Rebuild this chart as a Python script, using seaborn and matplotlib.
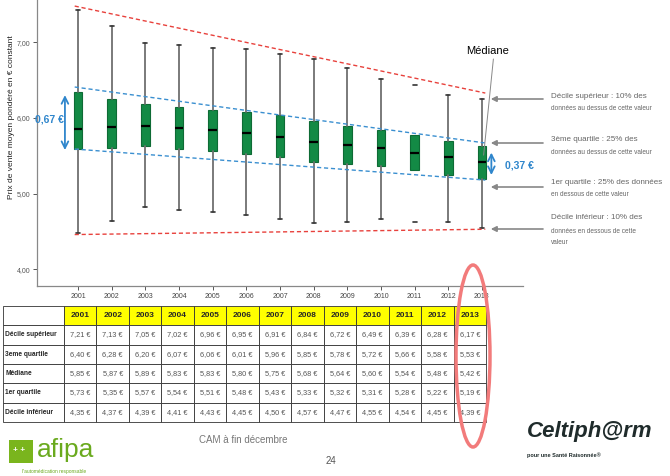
import numpy as np
import pandas as pd
import seaborn as sns
import matplotlib.pyplot as plt
from matplotlib.patches import Ellipse, Rectangle

# --- données ---
years = [str(y) for y in range(2001, 2014)]
whis_hi = [7.43, 7.22, 6.99, 6.96, 6.93, 6.91, 6.85, 6.78, 6.66, 6.52, 6.43, 6.31, 6.25]
q3 = [6.34, 6.25, 6.18, 6.14, 6.11, 6.08, 6.04, 5.96, 5.90, 5.84, 5.78, 5.69, 5.63]
med = [5.86, 5.88, 5.90, 5.87, 5.84, 5.80, 5.75, 5.68, 5.65, 5.60, 5.54, 5.48, 5.42]
q1 = [5.59, 5.61, 5.63, 5.59, 5.57, 5.53, 5.49, 5.42, 5.39, 5.37, 5.31, 5.25, 5.19]
whis_lo = [4.48, 4.64, 4.82, 4.78, 4.76, 4.72, 4.67, 4.61, 4.63, 4.67, 4.63, 4.62, 4.54]

# --- données du tableau ---
row_labels = ['Décile supérieur', '3eme quartile', 'Médiane', '1er quartile', 'Décile inférieur']
tab_dec_sup = [7.21, 7.13, 7.05, 7.02, 6.96, 6.95, 6.91, 6.84, 6.72, 6.49, 6.39, 6.28, 6.17]
tab_q3 = [6.40, 6.28, 6.20, 6.07, 6.06, 6.01, 5.96, 5.85, 5.78, 5.72, 5.66, 5.58, 5.53]
tab_med = [5.85, 5.87, 5.89, 5.83, 5.83, 5.80, 5.75, 5.68, 5.64, 5.60, 5.54, 5.48, 5.42]
tab_q1 = [5.73, 5.35, 5.57, 5.54, 5.51, 5.48, 5.43, 5.33, 5.32, 5.31, 5.28, 5.22, 5.19]
tab_dec_inf = [4.35, 4.37, 4.39, 4.41, 4.43, 4.45, 4.50, 4.57, 4.47, 4.55, 4.54, 4.45, 4.39]

sns.set_theme(style="white")
plt.rcParams['font.family'] = ['Liberation Sans', 'DejaVu Sans']

W, H = 670, 476
fig = plt.figure(figsize=(W / 100, H / 100), dpi=100)


def fx(px):
    return px / W


def fy(py):
    return 1 - py / H


# --- boxplot ---
ax = fig.add_axes([fx(37), fy(286), fx(523) - fx(37), fy(0) - fy(286)])
df = pd.DataFrame({'year': years, 'whislo': whis_lo, 'q1': q1, 'med': med, 'q3': q3, 'whishi': whis_hi})
stats = [dict(label=r.year, whislo=r.whislo, q1=r.q1, med=r.med, q3=r.q3, whishi=r.whishi, fliers=[])
         for r in df.itertuples()]
pos = np.arange(len(years))
bp = ax.bxp(stats, positions=pos, widths=0.26, patch_artist=True, showfliers=False, capwidths=0.12,
            boxprops=dict(facecolor='#138a45', edgecolor='#0e6b35', lw=0.8),
            medianprops=dict(color='black', lw=1.6),
            whiskerprops=dict(color='#707070', lw=1.3),
            capprops=dict(color='#333333', lw=1.2))
# 2011 : moustaches non tracées dans l'original
bp['whiskers'][20].set_visible(False)
bp['whiskers'][21].set_visible(False)

ax.set_xlim(-1.22, 13.22)
ax.set_ylim(3.78, 7.56)
ax.set_yticks([4, 5, 6, 7])
ax.set_yticklabels(['4,00', '5,00', '6,00', '7,00'], fontsize=5, color='#555555')
ax.set_xticks(pos)
ax.set_xticklabels(years, fontsize=5, color='#444444')
ax.tick_params(axis='both', length=3, width=0.7, color='#555555', pad=2, bottom=True, left=True)
for s in ['top', 'right']:
    ax.spines[s].set_visible(False)
for s in ['left', 'bottom']:
    ax.spines[s].set_color('#888888')
    ax.spines[s].set_linewidth(0.9)
ax.set_ylabel('Prix de vente moyen pondéré en € constant', fontsize=6, color='#222222')
ax.yaxis.set_label_coords(-0.045, 0.59)

# lignes de tendance
xl = [-0.1, 12.1]
ax.plot(xl, [whis_hi[0] + 0.05, whis_hi[-1] + 0.08], color='#e8413c', lw=1, ls=(0, (3, 2)))
ax.plot(xl, [whis_lo[0] - 0.02, whis_lo[-1] - 0.01], color='#e8413c', lw=1, ls=(0, (3, 2)))
ax.plot(xl, [q3[0] + 0.07, q3[-1] + 0.04], color='#3a8fd0', lw=1, ls=(0, (3, 2)))
ax.plot(xl, [q1[0], q1[-1] - 0.01], color='#3a8fd0', lw=1, ls=(0, (3, 2)))

# flèches bleues
blue = '#2f86cc'
ax.annotate('', xy=(-0.39, q3[0]), xytext=(-0.39, q1[0] - 0.05),
            arrowprops=dict(arrowstyle='<->', color=blue, lw=1.3), annotation_clip=False)
ax.text(-0.85, 5.98, '0,67 €', color=blue, fontsize=7.5, fontweight='bold', ha='center', va='center')
ax.annotate('', xy=(12.28, q3[-1] - 0.05), xytext=(12.28, q1[-1] + 0.02),
            arrowprops=dict(arrowstyle='<->', color=blue, lw=1.3), annotation_clip=False)
ax.text(13.1, 5.37, '0,37 €', color=blue, fontsize=7.5, fontweight='bold', ha='center', va='center',
        clip_on=False)

# Médiane
ax.text(12.17, 6.88, 'Médiane', fontsize=8, color='black', ha='center', va='center', clip_on=False)
ax.plot([12.34, 12.05], [6.78, 5.51], color='#888888', lw=0.7, clip_on=False)

# flèches grises + explications
gray = '#666666'
notes = [
    (99, ['Décile supérieur : 10% des', 'données au dessus de cette valeur'], [97, 109]),
    (143, ['3ème quartile : 25% des', 'données au dessus de cette valeur'], [139, 153]),
    (187, ['1er quartile : 25% des données', 'en dessous de cette valeur'], [183, 195]),
    (229, ['Décile inférieur : 10% des', 'données en dessous de cette', 'valeur'], [218, 231, 243]),
]
for ya, lines, ys in notes:
    fig.add_artist(plt.Line2D([fx(543), fx(496)], [fy(ya), fy(ya)], color='#888888', lw=1.2))
    ax.annotate('', xy=(fx(488), fy(ya)), xytext=(fx(500), fy(ya)), xycoords='figure fraction',
                textcoords='figure fraction',
                arrowprops=dict(arrowstyle='-|>', color='#888888', lw=1.2, mutation_scale=8))
    for i, (t, yt) in enumerate(zip(lines, ys)):
        fig.text(fx(551), fy(yt), t, fontsize=5.8 if i == 0 else 4.7, color=gray, va='center')

# --- tableau ---
tax = fig.add_axes([fx(3), fy(422), fx(486) - fx(3), fy(306) - fy(422)])
tax.axis('off')


def fmt(v):
    return f"{v:.2f}".replace('.', ',') + ' €'


cell_text = [[''] + years]
for lab, vals in zip(row_labels, [tab_dec_sup, tab_q3, tab_med, tab_q1, tab_dec_inf]):
    cell_text.append([lab] + [fmt(v) for v in vals])
colours = [['white'] + ['#ffff00'] * 13] + [['white'] * 14 for _ in row_labels]
first_w = 61
widths = [first_w] + [(483 - first_w) / 13] * 13
widths = [w / 483 for w in widths]
tbl = tax.table(cellText=cell_text, cellColours=colours, colWidths=widths, bbox=[0, 0, 1, 1],
                cellLoc='center')
tbl.auto_set_font_size(False)
tbl.set_fontsize(5.3)
n_rows = len(cell_text)
for (r, c), cell in tbl.get_celld().items():
    cell.set_edgecolor('#333333')
    cell.set_linewidth(0.6)
    cell.set_height(1 / n_rows)
    txt = cell.get_text()
    if r == 0:
        txt.set_fontweight('bold')
        txt.set_fontsize(6)
    elif c == 0:
        txt.set_fontweight('bold')
        txt.set_fontsize(4.8)
        txt.set_ha('left')
        cell.PAD = 0.04
    else:
        txt.set_color('#555555')

# ellipse rouge autour de 2013
fig.add_artist(Ellipse((fx(473), fy(356)), fx(34), 182 / H, transform=fig.transFigure,
                       fill=False, edgecolor='#f27b7b', lw=2.5))

# --- pied de page ---
fig.text(fx(243), fy(440), 'CAM à fin décembre', fontsize=7, color='#777777', ha='center', va='center')
fig.text(fx(331), fy(461), '24', fontsize=7, color='#555555', ha='center', va='center')
fig.add_artist(Rectangle((fx(9), fy(463)), fx(24), 23 / H, transform=fig.transFigure,
                         facecolor='#7ab51d', edgecolor='none'))
fig.text(fx(13), fy(451), '+ +', fontsize=6, color='white', fontweight='bold', va='center')
fig.text(fx(37), fy(450), 'afipa', fontsize=19, color='#6aaa1e', va='center')
fig.text(fx(22), fy(472), "l'automédication responsable", fontsize=3.5, color='#6aaa1e', va='center')
fig.text(fx(527), fy(432), 'Celtiph@rm', fontsize=16, fontweight='bold', style='italic',
         color='#1f2b2b', va='center')
fig.text(fx(527), fy(455), 'pour une Santé Raisonnée®', fontsize=4, fontweight='bold',
         color='#1f2b2b', va='center')

fig.savefig('out.png', dpi=100)
